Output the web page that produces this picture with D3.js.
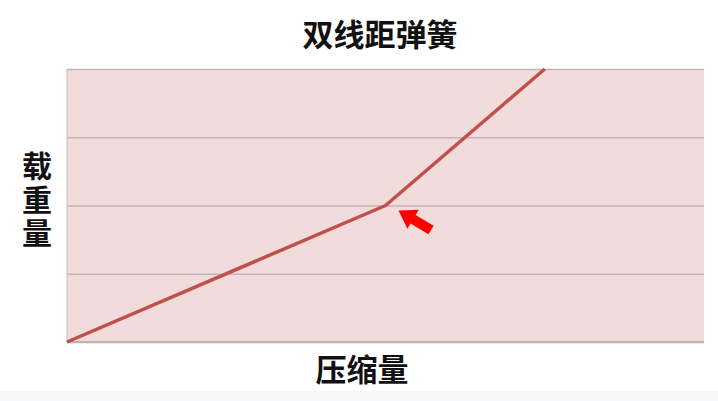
<!DOCTYPE html>
<html>
<head>
<meta charset="utf-8">
<script src="https://cdn.jsdelivr.net/npm/d3@7"></script>
<style>
  html, body { margin: 0; padding: 0; background: #ffffff; }
  svg { display: block; }
</style>
</head>
<body>
<div id="chart"></div>
<script>
// spring curve: two linear stages, the knee marks where the second pitch closes
const compression = [0, 5, 7.5];
const load = [0, 2, 4];
const yTicks = [0, 1, 2, 3, 4];
const title = "双线距弹簧";
const xLabel = "压缩量";
const yLabel = "载重量";

const width = 718;
const height = 401;
const margin = { top: 69, right: 14, bottom: 59, left: 67 };
const plotW = width - margin.left - margin.right;
const plotH = height - margin.top - margin.bottom;
const font = "'Noto Sans CJK SC', 'Noto Sans', sans-serif";

const svg = d3.select("#chart").append("svg")
    .attr("width", width)
    .attr("height", height);

// light strip along the bottom of the frame
svg.append("rect")
    .attr("x", 0).attr("y", 391)
    .attr("width", width).attr("height", height - 391)
    .attr("fill", "#f5f7fa");

const x = d3.scaleLinear().domain([0, 10]).range([0, plotW]);
const y = d3.scaleLinear().domain([0, 4]).range([plotH, 0]);

const g = svg.append("g")
    .attr("transform", `translate(${margin.left},${margin.top})`);

g.append("rect")
    .attr("width", plotW)
    .attr("height", plotH)
    .attr("fill", "#f2dcdb");

// horizontal gridlines
g.append("g")
    .call(d3.axisLeft(y).tickValues(yTicks).tickSize(-plotW).tickFormat(""))
    .call(a => a.select(".domain").remove())
    .call(a => a.selectAll(".tick line")
        .attr("stroke", "#c3b4b4")
        .attr("stroke-width", 1.3));

// left edge + bottom axis
g.append("line")
    .attr("x1", 0).attr("x2", 0)
    .attr("y1", 0).attr("y2", plotH)
    .attr("stroke", "#c9bcbc").attr("stroke-width", 1);

g.append("line")
    .attr("x1", 0).attr("x2", plotW)
    .attr("y1", plotH).attr("y2", plotH)
    .attr("stroke", "#bfb1b1").attr("stroke-width", 2);

const points = compression.map((c, i) => [c, load[i]]);

g.append("path")
    .datum(points)
    .attr("fill", "none")
    .attr("stroke", "#c0504d")
    .attr("stroke-width", 3.5)
    .attr("stroke-linejoin", "round")
    .attr("d", d3.line().x(d => x(d[0])).y(d => y(d[1])));

// red arrow pointing at the knee
const knee = points[1];
const arrow = [[0, 0], [17, -11], [17, -5], [38, -5], [38, 5], [17, 5], [17, 11]];
g.append("polygon")
    .attr("points", arrow.map(p => p.join(",")).join(" "))
    .attr("fill", "#ff0000")
    .attr("transform", `translate(${x(knee[0]) + 13},${y(knee[1]) + 5}) rotate(31)`);

// texts
svg.append("text")
    .attr("x", 380)
    .attr("y", 46)
    .attr("text-anchor", "middle")
    .style("font-family", font)
    .style("font-size", "31px")
    .style("font-weight", "bold")
    .attr("fill", "#111")
    .text(title);

svg.append("text")
    .attr("x", 362)
    .attr("y", 381)
    .attr("text-anchor", "middle")
    .style("font-family", font)
    .style("font-size", "31px")
    .style("font-weight", "bold")
    .attr("fill", "#111")
    .text(xLabel);

// stacked vertical label, one text element
svg.append("text")
    .attr("x", 37)
    .attr("y", 151)
    .style("writing-mode", "vertical-rl")
    .style("text-orientation", "upright")
    .style("letter-spacing", "3.5px")
    .style("font-family", font)
    .style("font-size", "30px")
    .style("font-weight", "bold")
    .attr("fill", "#111")
    .text(yLabel);
</script>
</body>
</html>
